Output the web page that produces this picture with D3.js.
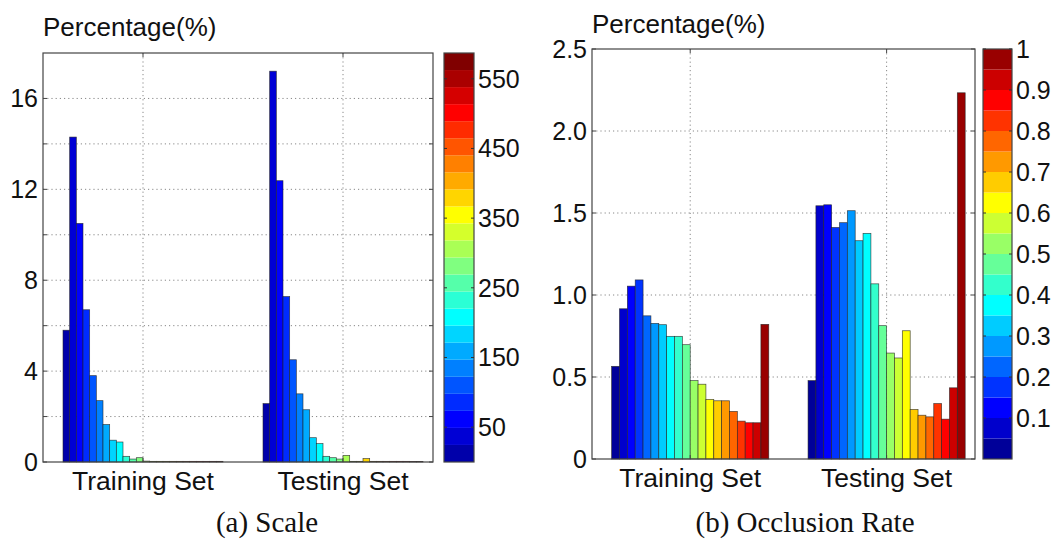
<!DOCTYPE html>
<meta charset="utf-8">
<style>
  body { margin: 0; background: #fff; }
  text { font-family: "Liberation Sans", Arial, sans-serif; fill: #111; }
  .cap { font-family: "Liberation Serif", "Times New Roman", serif; }
</style>
<body>
  <svg width="1054" height="545"></svg>
  <script src="https://cdn.jsdelivr.net/npm/d3@7"></script>
  <script>

    // groups on the x axis
    const groups = ["Training Set", "Testing Set"];

    // (a) scale histogram, 24 bins of the colour bar
    const scaleTrain = [5.8, 14.3, 10.5, 6.7, 3.8, 2.7, 1.65, 0.96, 0.88, 0.25, 0.13, 0.19,
      0.04, 0.03, 0.03, 0.03, 0.03, 0.03, 0.03, 0.03, 0.03, 0.03, 0.03, 0.03];
    const scaleTest = [2.57, 17.2, 12.38, 7.28, 4.5, 3.0, 2.3, 1.07, 0.81, 0.25, 0.19, 0.13,
      0.29, 0.03, 0.03, 0.15, 0.03, 0.03, 0.03, 0.03, 0.03, 0.03, 0.02, 0.02];
    const scaleYTicks = [0, 2, 4, 6, 8, 10, 12, 14, 16];
    const scaleYLabels = [0, 4, 8, 12, 16];
    const scaleCbTicks = [50, 150, 250, 350, 450, 550];

    // (b) occlusion rate histogram, 20 bins
    const occTrain = [0.565, 0.916, 1.054, 1.092, 0.873, 0.827, 0.819, 0.748, 0.748, 0.697,
      0.478, 0.456, 0.363, 0.355, 0.355, 0.29, 0.231, 0.221, 0.221, 0.821];
    const occTest = [0.478, 1.544, 1.55, 1.412, 1.441, 1.514, 1.331, 1.376, 1.068, 0.813,
      0.646, 0.616, 0.782, 0.302, 0.267, 0.257, 0.338, 0.243, 0.434, 2.233];
    const occYTicks = [0, 0.5, 1.0, 1.5, 2.0, 2.5];
    const occCbTicks = [0.1, 0.2, 0.3, 0.4, 0.5, 0.6, 0.7, 0.8, 0.9, 1];

    // matlab style jet(m)
    function jet(m) {
      const n = Math.ceil(m / 4);
      const u = [];
      for (let i = 1; i <= n; i++) u.push(i / n);
      for (let i = 1; i < n; i++) u.push(1);
      for (let i = n; i >= 1; i--) u.push(i / n);
      const off = Math.ceil(n / 2) - (m % 4 == 1 ? 1 : 0);
      const J = d3.range(m).map(() => [0, 0, 0]);
      u.forEach((v, k) => {
        const g = off + k + 1, r = g + n;
        if (g <= m) J[g - 1][1] = v;
        if (r <= m) J[r - 1][0] = v;
      });
      // blue takes the tail of u
      const bRows = [];
      u.forEach((v, k) => { const b = off + k + 1 - n; if (b >= 1) bRows.push(b); });
      bRows.forEach((b, k) => { J[b - 1][2] = u[u.length - bRows.length + k]; });
      return J.map(c => d3.rgb(c[0] * 255, c[1] * 255, c[2] * 255).formatHex());
    }

    const svg = d3.select("svg");

    function panel(o) {
      const g = svg.append("g");
      const colors = jet(o.train.length);
      const n = o.train.length;

      const x = d3.scaleLinear().domain([0.5, 2.45]).range([o.left, o.right]);
      const y = d3.scaleLinear().domain(o.yDomain).range([o.bottom, o.top]);

      // grid
      g.selectAll(".hg").data(o.yTicks.filter(d => d > 0 && d < o.yDomain[1]))
        .enter().append("line")
        .attr("x1", o.left).attr("x2", o.right)
        .attr("y1", d => y(d)).attr("y2", d => y(d))
        .attr("stroke", "#888").attr("stroke-width", 1).attr("stroke-dasharray", "1.2,3");
      g.selectAll(".vg").data([1, 2]).enter().append("line")
        .attr("x1", d => x(d)).attr("x2", d => x(d))
        .attr("y1", o.top).attr("y2", o.bottom)
        .attr("stroke", "#888").attr("stroke-width", 1).attr("stroke-dasharray", "1.2,3");

      // bars
      const bw = 0.8 / n;
      [o.train, o.test].forEach((vals, gi) => {
        g.selectAll(".b" + gi).data(vals).enter().append("rect")
          .attr("x", (d, i) => x(gi + 1 - 0.4 + i * bw))
          .attr("width", x(bw) - x(0))
          .attr("y", d => y(d))
          .attr("height", d => o.bottom - y(d))
          .attr("fill", (d, i) => colors[i])
          .attr("stroke", "#222").attr("stroke-opacity", 0.8).attr("stroke-width", 0.7);
      });

      // box
      g.append("rect").attr("x", o.left).attr("y", o.top)
        .attr("width", o.right - o.left).attr("height", o.bottom - o.top)
        .attr("fill", "none").attr("stroke", "#444").attr("stroke-width", 1.2);

      // y ticks
      o.yTicks.forEach(d => {
        g.append("line").attr("x1", o.left).attr("x2", o.left + 4)
          .attr("y1", y(d)).attr("y2", y(d)).attr("stroke", "#444");
        g.append("line").attr("x1", o.right).attr("x2", o.right - 4)
          .attr("y1", y(d)).attr("y2", y(d)).attr("stroke", "#444");
      });
      g.selectAll(".yl").data(o.yLabels).enter().append("text")
        .attr("x", o.left - 5).attr("y", d => y(d))
        .attr("dy", "0.36em").attr("text-anchor", "end")
        .style("font-size", "25px")
        .text(o.yFmt);

      // x ticks and labels
      [1, 2].forEach(d => {
        g.append("line").attr("x1", x(d)).attr("x2", x(d))
          .attr("y1", o.bottom).attr("y2", o.bottom - 4).attr("stroke", "#444");
        g.append("line").attr("x1", x(d)).attr("x2", x(d))
          .attr("y1", o.top).attr("y2", o.top + 4).attr("stroke", "#444");
      });
      g.selectAll(".xl").data(groups).enter().append("text")
        .attr("x", (d, i) => x(i + 1)).attr("y", o.bottom + 28)
        .attr("text-anchor", "middle").style("font-size", "26.5px")
        .text(d => d);

      g.append("text").attr("x", o.left).attr("y", o.titleY)
        .style("font-size", "26px").text("Percentage(%)");

      // colour bar
      const cb = d3.scaleLinear().domain(o.cbDomain).range([o.bottom, o.top]);
      const band = (o.cbDomain[1] - o.cbDomain[0]) / n;
      g.selectAll(".cb").data(colors).enter().append("rect")
        .attr("x", o.cbLeft).attr("width", o.cbWidth)
        .attr("y", (d, i) => cb(o.cbDomain[0] + (i + 1) * band))
        .attr("height", (d, i) => cb(o.cbDomain[0] + i * band) - cb(o.cbDomain[0] + (i + 1) * band))
        .attr("fill", d => d);
      g.append("rect").attr("x", o.cbLeft).attr("y", o.top)
        .attr("width", o.cbWidth).attr("height", o.bottom - o.top)
        .attr("fill", "none").attr("stroke", "#444").attr("stroke-width", 1.2);
      o.cbTicks.forEach(d => {
        g.append("line").attr("x1", o.cbLeft).attr("x2", o.cbLeft + 3)
          .attr("y1", cb(d)).attr("y2", cb(d)).attr("stroke", "#333");
        g.append("line").attr("x1", o.cbLeft + o.cbWidth).attr("x2", o.cbLeft + o.cbWidth - 3)
          .attr("y1", cb(d)).attr("y2", cb(d)).attr("stroke", "#333");
      });
      g.selectAll(".cl").data(o.cbTicks).enter().append("text")
        .attr("x", o.cbLeft + o.cbWidth + 4).attr("y", d => cb(d))
        .attr("dy", "0.36em").style("font-size", "25px")
        .text(d => d);

      g.append("text").attr("class", "cap")
        .attr("x", o.capX).attr("y", 532)
        .attr("text-anchor", "middle").style("font-size", "29px")
        .text(o.caption);
    }

    panel({
      train: scaleTrain, test: scaleTest,
      left: 43, right: 433, top: 53, bottom: 462, titleY: 36,
      yDomain: [0, 18], yTicks: scaleYTicks, yLabels: scaleYLabels, yFmt: d => d,
      cbLeft: 444, cbWidth: 30, cbDomain: [0, 587], cbTicks: scaleCbTicks,
      capX: 267, caption: "(a) Scale"
    });

    panel({
      train: occTrain, test: occTest,
      left: 592, right: 975, top: 49, bottom: 459, titleY: 33,
      yDomain: [0, 2.5], yTicks: occYTicks, yLabels: occYTicks,
      yFmt: d => d == 0 ? "0" : d3.format(".1f")(d),
      cbLeft: 983, cbWidth: 29, cbDomain: [0, 1], cbTicks: occCbTicks,
      capX: 805, caption: "(b) Occlusion Rate"
    });

  </script>
</body>
